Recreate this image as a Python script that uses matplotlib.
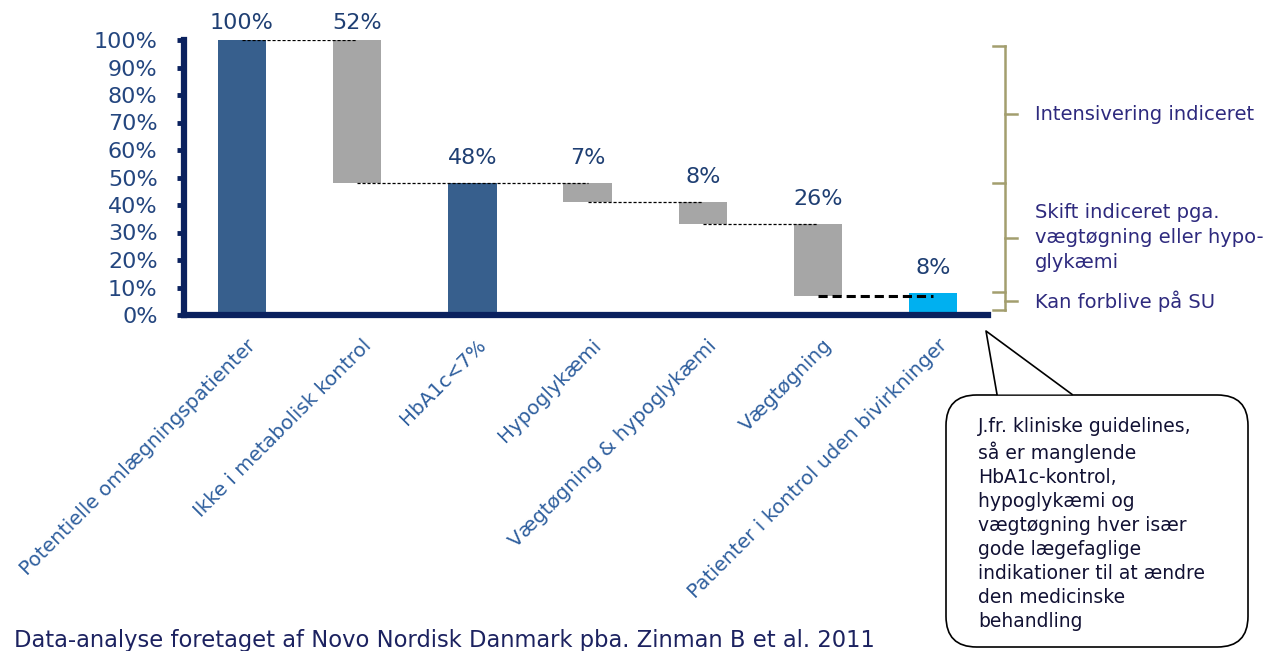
import matplotlib
matplotlib.use("Agg")
import matplotlib.pyplot as plt
from matplotlib.patches import FancyBboxPatch, Polygon
from matplotlib.lines import Line2D
from matplotlib.transforms import blended_transform_factory, ScaledTranslation

# data
categories = ["Potentielle omlægningspatienter", "Ikke i metabolisk kontrol", "HbA1c<7%",
              "Hypoglykæmi", "Vægtøgning & hypoglykæmi", "Vægtøgning",
              "Patienter i kontrol uden bivirkninger"]
pct = [100, 52, 48, 7, 8, 26, 8]
kind = ["total", "drop", "total", "drop", "drop", "drop", "total"]
y_ticks = list(range(0, 101, 10))

groups = ["Intensivering indiceret",
          "Skift indiceret pga.\nvægtøgning eller hypo-\nglykæmi",
          "Kan forblive på SU"]
group_bounds = [98, 48, 8.3, 1.8]

note = ("J.fr. kliniske guidelines,\nså er manglende\nHbA1c-kontrol,\nhypoglykæmi og\n"
        "vægtøgning hver især\ngode lægefaglige\nindikationer til at ændre\n"
        "den medicinske\nbehandling")
source = "Data-analyse foretaget af Novo Nordisk Danmark pba. Zinman B et al. 2011"

DARK = "#375f8d"
GREY = "#a6a6a6"
LIGHT = "#00b0f0"
NAVY = "#0a215e"
TXT = "#24467f"

W, H = 1276, 651
fig = plt.figure(figsize=(W / 100, H / 100), dpi=100)
ax = fig.add_axes([184 / W, 1 - 315 / H, (988 - 184) / W, 275 / H])

# waterfall bottoms / ends
bottoms, ends = [], []
level = 0
for v, k in zip(pct, kind):
    if k == "total":
        b = 0
        level = v
    else:
        level = level - v
        b = level
    bottoms.append(b)
    ends.append(level)

colors = [DARK if k == "total" else GREY for k in kind]
colors[-1] = LIGHT
x = list(range(len(pct)))
ax.bar(x, pct, bottom=bottoms, width=0.42, color=colors, zorder=2)

# connectors
for i in range(len(pct) - 1):
    if i == len(pct) - 2:
        ax.plot([i, i + 1], [ends[i], ends[i]], color="black", lw=2.2,
                dashes=(3, 1.6), zorder=3)
    else:
        ax.plot([i, i + 1], [ends[i], ends[i]], color="black", lw=0.9,
                dashes=(2.5, 1.5), zorder=3)

# value labels
for i, v in enumerate(pct):
    top = bottoms[i] + v
    off = 5 if top >= 100 else 11
    ax.annotate(f"{v}%", (i, top), xytext=(0, off), textcoords="offset points",
                ha="center", va="bottom", fontsize=16, color="#1f3f73", zorder=4)

ax.set_xlim(-0.503, 6.476)
ax.set_ylim(0, 100)
ax.set_yticks(y_ticks)
ax.set_yticklabels([f"{t}%" for t in y_ticks])
ax.tick_params(axis="y", length=5, width=3.5, color=NAVY, pad=14,
               labelsize=16, labelcolor=TXT)
ax.set_xticks(x)
ax.set_xticklabels(categories, rotation=45, ha="right", va="top",
                   rotation_mode="anchor", fontsize=14.3, color="#2f5f9e")
ax.tick_params(axis="x", length=0, pad=15)
shift = ScaledTranslation(3 / 72, 0, fig.dpi_scale_trans)
for lab in ax.get_xticklabels():
    lab.set_transform(lab.get_transform() + shift)

for s in ["top", "right"]:
    ax.spines[s].set_visible(False)
for s in ["left", "bottom"]:
    ax.spines[s].set_color(NAVY)
    ax.spines[s].set_linewidth(4.5)
    ax.spines[s].set_zorder(5)
ax.patch.set_visible(False)

# bracket on the right
tr = blended_transform_factory(fig.transFigure, ax.transData)
BR = "#a39e6e"
xv, xl, xr = 1005 / W, 993 / W, 1017 / W
ax.add_line(Line2D([xv, xv], [group_bounds[0], group_bounds[-1]], transform=tr,
                   color=BR, lw=1.8, clip_on=False))
for b in group_bounds:
    ax.add_line(Line2D([xl, xv], [b, b], transform=tr, color=BR, lw=1.8, clip_on=False))
for j, g in enumerate(groups):
    mid = (group_bounds[j] + group_bounds[j + 1]) / 2
    ax.add_line(Line2D([xv, xr], [mid, mid], transform=tr, color=BR, lw=1.8, clip_on=False))
    ax.text(1035 / W, mid, g, transform=tr, ha="left", va="center", fontsize=14,
            color="#2e2a7e", linespacing=1.38)

# speech bubble
bx0, bx1, by0, by1 = 946 / W, 1248 / W, 1 - 647 / H, 1 - 395 / H
pad = 0.02
bubble = FancyBboxPatch((bx0 + pad, by0 + pad * W / H), bx1 - bx0 - 2 * pad,
                        by1 - by0 - 2 * pad * W / H,
                        boxstyle="round,pad=0.02,rounding_size=0.024",
                        transform=fig.transFigure, facecolor="white",
                        edgecolor="black", lw=1.2, mutation_aspect=W / H)
fig.add_artist(bubble)
tail = [(997 / W, by1 + 0.001), (986 / W, 1 - 331 / H), (1072 / W, by1 + 0.001)]
fig.add_artist(Polygon(tail, closed=True, transform=fig.transFigure,
                       facecolor="white", edgecolor="none", zorder=3))
fig.add_artist(Line2D([p[0] for p in tail], [p[1] for p in tail],
                      transform=fig.transFigure, color="black", lw=1.2, zorder=4))
fig.text(978 / W, 1 - 417 / H, note, ha="left", va="top", fontsize=13.5,
         color="#111133", linespacing=1.33)

fig.text(14 / W, 1 - 647 / H, source, ha="left", va="baseline", fontsize=16.3,
         color="#1c2260")

fig.savefig("out.png", dpi=100)
